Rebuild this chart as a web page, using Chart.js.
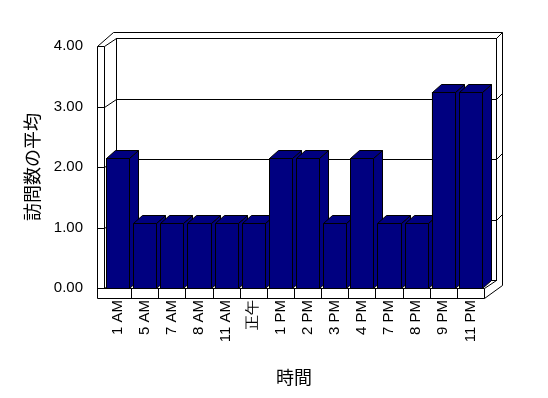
<!DOCTYPE html>
<html>
<head>
<meta charset="utf-8">
<script src="https://cdn.jsdelivr.net/npm/chart.js@4.4.1/dist/chart.umd.min.js"></script>
<style>
  html, body { margin: 0; padding: 0; background: #fff; }
</style>
</head>
<body>
<canvas id="chart" width="548" height="398"></canvas>
<script>
// chart data
const categories = ['1 AM', '5 AM', '7 AM', '8 AM', '11 AM', '正午', '1 PM', '2 PM', '3 PM', '4 PM', '7 PM', '8 PM', '9 PM', '11 PM'];
const avgVisits = [2.15, 1.07, 1.07, 1.07, 1.07, 1.07, 2.15, 2.15, 1.07, 2.15, 1.07, 1.07, 3.24, 3.24];
const yMin = 0;
const yMax = 4;
const yStep = 1;

const NAVY = '#000080';

// draws the 3D walls, floor and back-wall gridlines behind the bars,
// then the bars as boxes (left to right so each covers its neighbour's side)
const frame3d = {
    id: 'frame3d',
    beforeDatasetsDraw(chart) {
        const { ctx, chartArea: a, scales: { x, y } } = chart;
        const L = Math.round(a.left), R = Math.round(a.right);
        const T = Math.round(y.getPixelForValue(yMax));
        const B = Math.round(y.getPixelForValue(yMin));
        const dx = 12, dy = -8, wall = 7, slab = 10, th = 6;
        const line = pts => {
            ctx.beginPath();
            pts.forEach(([px, py], i) => i ? ctx.lineTo(px + 0.5, py + 0.5) : ctx.moveTo(px + 0.5, py + 0.5));
            ctx.stroke();
        };
        ctx.save();
        ctx.strokeStyle = '#000';
        ctx.lineWidth = 1;

        // back wall
        ctx.strokeRect(L + dx + 0.5, T + dy + 0.5, R - L, B - T);
        line([[L - wall, T], [L + dx - 3, T + dy - th], [R + dx + th, T + dy - th], [R + dx + th, B + dy + 5], [R, B + slab]]);
        line([[L, T], [L + dx, T + dy]]);
        line([[R + dx, T + dy], [R + dx + th, T + dy - th]]);

        // left wall front strip
        line([[L - wall, T], [L - wall, B + slab]]);
        line([[L - wall, T], [L, T], [L, B]]);

        // floor
        line([[L - wall, B], [R, B], [R, B + slab], [L - wall, B + slab]]);
        line([[L, B], [L + dx, B + dy]]);
        line([[R, B], [R + dx, B + dy]]);
        const n = categories.length;
        for (let i = 1; i < n; i++) {
            const xb = Math.round((x.getPixelForValue(i - 1) + x.getPixelForValue(i)) / 2);
            line([[xb, B], [xb, B + slab]]);
        }

        // gridlines
        for (let v = yMin + yStep; v < yMax; v += yStep) {
            const yy = Math.round(y.getPixelForValue(v));
            line([[L - wall, yy], [L, yy], [L + dx, yy + dy], [R + dx, yy + dy], [R + dx + th, yy + dy - th]]);
        }
        ctx.restore();
    },
    afterDatasetsDraw(chart) {
        const { ctx } = chart;
        const bx = 9, by = -8;
        const poly = pts => {
            ctx.beginPath();
            pts.forEach(([px, py], i) => i ? ctx.lineTo(px + 0.5, py + 0.5) : ctx.moveTo(px + 0.5, py + 0.5));
            ctx.closePath();
            ctx.fill();
            ctx.stroke();
        };
        ctx.save();
        ctx.fillStyle = NAVY;
        ctx.strokeStyle = '#000';
        ctx.lineWidth = 1;
        chart.getDatasetMeta(0).data.forEach(bar => {
            const p = bar.getProps(['x', 'y', 'base', 'width'], true);
            const l = Math.round(p.x - p.width / 2), r = Math.round(p.x + p.width / 2);
            const top = Math.round(p.y), base = Math.round(p.base);
            poly([[r, top], [r + bx, top + by], [r + bx, base + by], [r, base]]);
            poly([[l, top], [l + bx, top + by], [r + bx, top + by], [r, top]]);
            poly([[l, top], [r, top], [r, base], [l, base]]);
        });
        ctx.restore();
    }
};

const tickFont = { family: '"Liberation Sans", Arial, sans-serif', size: 15 };
const titleFont = { family: '"Noto Sans CJK JP", sans-serif', size: 18 };

new Chart(document.getElementById('chart').getContext('2d'), {
    type: 'bar',
    data: {
        labels: categories,
        datasets: [{
            label: '訪問数の平均',
            data: avgVisits,
            backgroundColor: NAVY,
            borderColor: '#000',
            borderWidth: 1,
            borderSkipped: false,
            barPercentage: 0.85,
            categoryPercentage: 1
        }]
    },
    options: {
        responsive: false,
        animation: false,
        layout: { padding: { left: 0, top: 46, right: 64, bottom: 0 } },
        plugins: {
            legend: { display: false },
            tooltip: { enabled: false }
        },
        scales: {
            x: {
                grid: { display: false, drawTicks: false },
                border: { display: false },
                ticks: { color: '#000', font: tickFont, minRotation: 90, maxRotation: 90, padding: 12, autoSkip: false },
                title: { display: true, text: '時間', color: '#000', font: titleFont, padding: { top: 0, bottom: 10 } },
                afterFit: scale => { scale.height = 110; }
            },
            y: {
                min: yMin,
                max: yMax,
                grid: { display: false, drawTicks: false },
                border: { display: false },
                ticks: { stepSize: yStep, color: '#000', font: tickFont, padding: 21, callback: v => v.toFixed(2) },
                title: { display: true, text: '訪問数の平均', color: '#000', font: titleFont, padding: { top: 21, bottom: 0 } },
                afterFit: scale => { scale.width = 104; }
            }
        }
    },
    plugins: [frame3d]
});
</script>
</body>
</html>
